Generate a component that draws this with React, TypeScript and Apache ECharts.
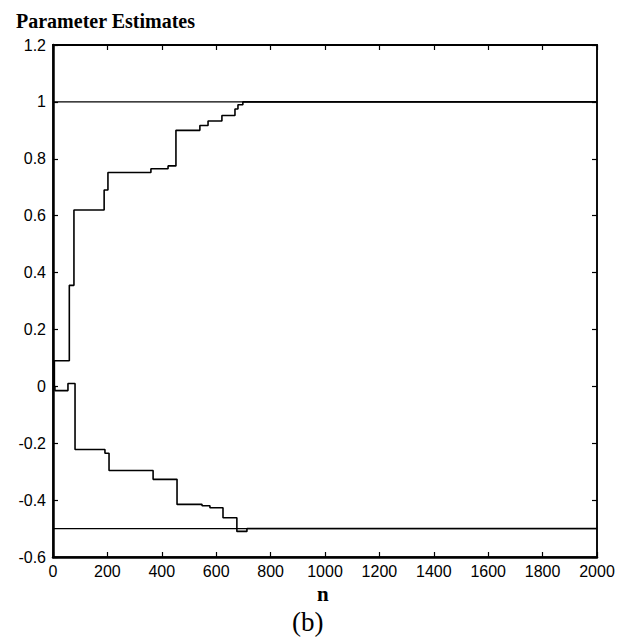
import React, { useEffect, useRef } from "react";
import * as echarts from "echarts";

const titleText = "Parameter Estimates";
const xLabel = "n";
const caption = "(b)";

const upperN = [0, 5, 60, 77, 188, 202, 360, 423, 452, 540, 570, 621, 669, 680, 698, 2000];
const upperV = [0, 0.09, 0.355, 0.62, 0.69, 0.752, 0.765, 0.775, 0.9, 0.917, 0.933, 0.952, 0.975, 0.99, 1.0, 1.0];

const lowerN = [0, 7, 55, 81, 191, 206, 368, 456, 548, 577, 625, 676, 713, 2000];
const lowerV = [0, -0.015, 0.01, -0.222, -0.235, -0.296, -0.327, -0.415, -0.42, -0.427, -0.462, -0.51, -0.5, -0.5];

const trueValues = [1, -0.5];
const xRange = [0, 2000];
const yRange = [-0.6, 1.2];

export default function App() {
  const ref = useRef<HTMLDivElement>(null);
  useEffect(() => {
    if (!ref.current) return;
    const chart = echarts.init(ref.current, undefined, { renderer: "svg" });
    const family = "'Liberation Sans Narrow', 'Arial Narrow', 'Liberation Sans', Arial, sans-serif";
    const fmtY = (v: number) => String(Math.round(v * 10) / 10);
    const fmtX = (v: number) => String(Math.round(v));
    const lineStyle = { color: "#000", width: 1.6 };
    chart.setOption({
      animation: false,
      backgroundColor: "#fff",
      title: {
        text: titleText,
        left: 11,
        top: 6,
        textStyle: { fontFamily: "Liberation Serif, Times New Roman, serif", fontWeight: "bold", fontSize: 20, color: "#000" },
      },
      grid: { left: 53, right: 24, top: 45, bottom: 84, show: true, borderColor: "#000", borderWidth: 1.5, backgroundColor: "transparent" },
      xAxis: [
        {
          type: "value", min: xRange[0], max: xRange[1], interval: 200, position: "bottom",
          axisLine: { show: true, onZero: false, lineStyle: { color: "#000", width: 2.5 } },
          axisTick: { show: true, inside: true, length: 5, lineStyle: { color: "#000", width: 1.2 } },
          axisLabel: { fontFamily: family, fontSize: 16, color: "#000", margin: 6, formatter: fmtX },
          splitLine: { show: false },
        },
        {
          type: "value", min: xRange[0], max: xRange[1], interval: 200, position: "top",
          axisLine: { show: true, onZero: false, lineStyle: { color: "#000", width: 2.2 } },
          axisTick: { show: true, inside: true, length: 5, lineStyle: { color: "#000", width: 1.2 } },
          axisLabel: { show: false },
          splitLine: { show: false },
        },
      ],
      yAxis: [
        {
          type: "value", min: yRange[0], max: yRange[1], interval: 0.2, position: "left",
          axisLine: { show: true, onZero: false, lineStyle: { color: "#000", width: 2.5 } },
          axisTick: { show: true, inside: true, length: 5, lineStyle: { color: "#000", width: 1.2 } },
          axisLabel: { fontFamily: family, fontSize: 16, color: "#000", margin: 7, formatter: fmtY },
          splitLine: { show: false },
        },
        {
          type: "value", min: yRange[0], max: yRange[1], interval: 0.2, position: "right",
          axisLine: { show: true, onZero: false, lineStyle: { color: "#000", width: 1.5 } },
          axisTick: { show: true, inside: true, length: 5, lineStyle: { color: "#000", width: 1.2 } },
          axisLabel: { show: false },
          splitLine: { show: false },
        },
      ],
      series: [
        ...trueValues.map((v) => ({
          type: "line",
          data: [[xRange[0], v], [xRange[1], v]],
          symbol: "none",
          lineStyle: { color: "#000", width: 1.3 },
          silent: true,
        })),
        {
          type: "line",
          step: "end",
          data: upperN.map((n, i) => [n, upperV[i]]),
          symbol: "none",
          lineStyle,
        },
        {
          type: "line",
          step: "end",
          data: lowerN.map((n, i) => [n, lowerV[i]]),
          symbol: "none",
          lineStyle,
        },
      ],
      graphic: [
        {
          type: "text", left: 317, top: 583,
          style: { text: xLabel, font: "bold 21px 'Liberation Serif', 'Times New Roman', serif", fill: "#000" },
        },
        {
          type: "text", left: 292, top: 608,
          style: { text: caption, font: "27px 'Liberation Serif', 'Times New Roman', serif", fill: "#000" },
        },
      ],
    });
    return () => chart.dispose();
  }, []);
  return <div ref={ref} style={{ width: 621, height: 641, position: "absolute", left: 0, top: 0 }} />;
}
